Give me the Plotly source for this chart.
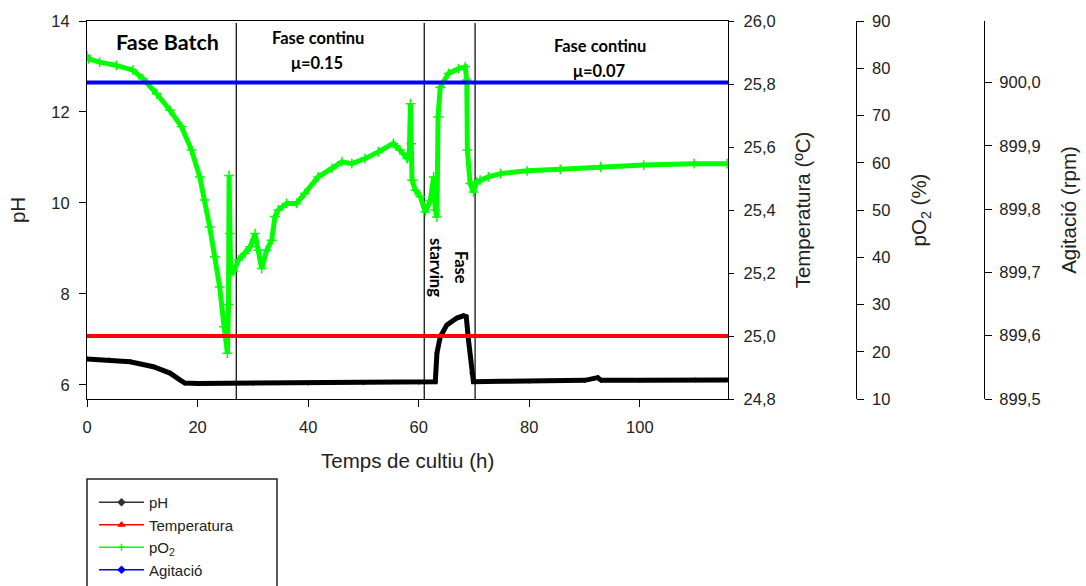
import plotly.graph_objects as go

# ---- Data -------------------------------------------------------------
# pH (time in h)
t_ph = [0, 4, 7.8, 12.0, 15.0, 16.8, 17.7, 20, 30, 40, 50, 60, 63.0, 63.3,
        63.9, 65.1, 66.9, 68.1, 68.6, 69.0, 69.6, 69.9, 75, 80, 90, 92.4,
        93.0, 100, 110, 115.8]
ph = [6.57, 6.55, 6.51, 6.40, 6.26, 6.11, 6.04, 6.03, 6.04, 6.04, 6.05,
      6.06, 6.07, 6.70, 7.06, 7.32, 7.47, 7.52, 7.50, 6.99, 6.26, 6.07,
      6.08, 6.08, 6.10, 6.16, 6.10, 6.10, 6.11, 6.11]

# Dissolved oxygen pO2 (%)
t_po2 = [0, 0.3, 2.3, 5.3, 8.3, 10.1, 12.6, 15.0, 17.1, 18.9, 20.4, 21.3,
         22.2, 23.1, 24.0, 24.8, 25.4, 25.6, 25.7, 25.85, 26.0, 26.5, 27.4,
         28.6, 29.5, 30.4, 31.0, 31.6, 32.5, 33.4, 34.0, 34.6, 36.1, 37.9,
         39.4, 41.8, 44.3, 46.1, 47.9, 50.3, 52.7, 55.4, 56.6, 57.9, 58.3,
         58.5, 58.65, 58.8, 59.4, 60.3, 61.2, 62.1, 62.7, 63.0, 63.3, 63.5,
         63.9, 65.4, 67.2, 68.4, 68.7, 68.8, 69.3, 69.9, 70.5, 71.1, 72.6,
         74.8, 79.6, 85.6, 92.9, 100.7, 109.8, 115.8]
po2 = [82.6, 82.0, 81.3, 80.6, 79.6, 77.8, 74.6, 71.1, 67.6, 62.7, 57.0,
       52.1, 46.4, 40.1, 33.7, 25.3, 19.7, 30.0, 57.3, 45.0, 36.5, 37.0,
       39.4, 40.8, 42.2, 45.0, 41.5, 37.6, 41.5, 43.6, 48.6, 50.0, 51.4,
       51.4, 53.5, 57.0, 58.8, 60.2, 59.8, 60.9, 62.3, 64.1, 62.7, 60.9,
       62.0, 72.5, 64.0, 56.3, 54.2, 52.8, 49.6, 52.0, 57.0, 50.0, 48.5,
       69.7, 76.0, 78.9, 79.9, 80.3, 77.5, 62.7, 55.6, 53.8, 55.9, 56.3,
       57.0, 57.7, 58.3, 58.6, 59.1, 59.5, 59.8, 59.8]

# Set-points held constant over the whole run
t_const = [0, 116]
temperatura = [25.0, 25.0]
agitacio = [900.0, 900.0]

# Phase boundaries (h)
phase_bounds = [27.0, 61.0, 70.2]

# Tick values
x_ticks = [0, 20, 40, 60, 80, 100]
ph_ticks = [6, 8, 10, 12, 14]
temp_ticks = [24.8, 25.0, 25.2, 25.4, 25.6, 25.8, 26.0]
po2_ticks = [10, 20, 30, 40, 50, 60, 70, 80, 90]
agit_ticks = [899.5, 899.6, 899.7, 899.8, 899.9, 900.0]

# ---- Layout geometry --------------------------------------------------
W, H = 1086, 586
ML, MR, MT, MB = 87, 2, 21, 187
PW = W - ML - MR
PH_ = H - MT - MB


def paper_x(px):
    return (px - ML) / PW


def paper_y(py):
    return (H - MB - py) / PH_


FONT = "Liberation Sans, Arial, sans-serif"
BOLD = "Lato, Open Sans, sans-serif"
TICK = dict(family=FONT, size=16.5, color="#222")
TITLE = dict(family=FONT, size=20.5, color="#222")

GREEN, RED, BLUE = "#00FF00", "#FF0000", "#0000FF"

fig = go.Figure()

# Data traces (legend entries are drawn separately with thin samples)
fig.add_trace(go.Scatter(
    x=t_ph, y=ph, yaxis="y", mode="lines+markers", showlegend=False,
    line=dict(color="black", width=5),
    marker=dict(symbol="diamond", size=4, color="black")))
fig.add_trace(go.Scatter(
    x=t_po2, y=po2, yaxis="y2", mode="lines+markers", showlegend=False,
    line=dict(color=GREEN, width=5),
    marker=dict(symbol="cross-thin", size=7,
                line=dict(color=GREEN, width=1.5), color=GREEN)))
fig.add_trace(go.Scatter(
    x=t_const, y=temperatura, yaxis="y3", mode="lines", showlegend=False,
    line=dict(color=RED, width=4)))
fig.add_trace(go.Scatter(
    x=t_const, y=agitacio, yaxis="y4", mode="lines", showlegend=False,
    line=dict(color=BLUE, width=4)))

# Legend entries
legend_items = [
    ("pH", "#333", "diamond"),
    ("Temperatura", RED, "triangle-up"),
    ("pO<sub>2</sub>", GREEN, "cross-thin"),
    ("Agitació", BLUE, "diamond"),
]
for name, color, symbol in legend_items:
    fig.add_trace(go.Scatter(
        x=[None], y=[None], name=name, mode="lines+markers",
        line=dict(color=color, width=1.5),
        marker=dict(symbol=symbol, size=5, color=color,
                    line=dict(color=color, width=1.5))))

axis_common = dict(showline=True, linecolor="black", linewidth=1,
                   ticks="outside", tickcolor="black", showgrid=False,
                   zeroline=False, tickfont=TICK)

x_end = paper_x(728.3)

fig.update_layout(
    width=W, height=H,
    margin=dict(l=ML, r=MR, t=MT, b=MB, autoexpand=False),
    paper_bgcolor="white", plot_bgcolor="white",
    separators=",.",
    xaxis=dict(domain=[0, x_end], range=[0, 116], tickvals=x_ticks,
               ticklen=7, mirror=True, ticklabelstandoff=6,
               title=dict(text="Temps de cultiu (h)", font=TITLE, standoff=18),
               **axis_common),
    yaxis=dict(range=[5.69, 14], tickvals=ph_ticks, ticklen=7,
               ticklabelstandoff=6,
               title=dict(text="pH", font=TITLE, standoff=20),
               **axis_common),
    yaxis2=dict(overlaying="y", anchor="free", position=paper_x(855.7),
                side="right", range=[10, 90], tickvals=po2_ticks, ticklen=7,
                ticklabelstandoff=5,
                title=dict(text="pO<sub>2</sub> (%)", font=TITLE, standoff=22),
                **axis_common),
    yaxis3=dict(overlaying="y", anchor="x", side="right",
                range=[24.8, 26.0], tickvals=temp_ticks, tickformat=".1f",
                ticklen=5, ticklabelstandoff=6,
                title=dict(text="Temperatura (ºC)", font=TITLE, standoff=20),
                **axis_common),
    yaxis4=dict(overlaying="y", anchor="free", position=paper_x(984),
                side="right", range=[899.5, 900.097], tickvals=agit_ticks,
                tickformat=".1f", ticklen=7, ticklabelstandoff=4,
                title=dict(text="Agitació (rpm)", font=TITLE, standoff=22),
                **axis_common),
    legend=dict(x=paper_x(94), y=paper_y(486), xanchor="left", yanchor="top",
                bgcolor="rgba(0,0,0,0)", borderwidth=0,
                font=dict(family=FONT, size=15, color="#222"),
                itemwidth=45, tracegroupgap=0),
    showlegend=True,
)

# Phase separators
for xb in phase_bounds:
    fig.add_shape(type="line", xref="x", yref="paper", x0=xb, x1=xb,
                  y0=0, y1=paper_y(23), line=dict(color="black", width=1.2),
                  layer="below")

# Legend frame (runs past the bottom of the page)
fig.add_shape(type="rect", xref="paper", yref="paper",
              x0=paper_x(87), x1=paper_x(277), y0=paper_y(479), y1=paper_y(640),
              line=dict(color="#222", width=1.5), fillcolor="rgba(0,0,0,0)")

# Phase labels
labels = [
    ("Fase Batch", 167.8, 42, 21.5, 0),
    ("Fase continu", 317.5, 38.5, 16.5, 0),
    ("μ=0.15", 316.7, 63, 16.5, 0),
    ("Fase continu", 599.5, 46.5, 16.5, 0),
    ("μ=0.07", 599, 71, 16.5, 0),
    ("Fase", 461, 267, 16.5, 90),
    ("starving", 436, 267, 16.5, 90),
]
for text, lx, ly, size, angle in labels:
    fig.add_annotation(text=f"<b>{text}</b>", xref="paper", yref="paper",
                       x=paper_x(lx), y=paper_y(ly), showarrow=False,
                       textangle=angle, xanchor="center", yanchor="middle",
                       font=dict(family=BOLD, size=size, color="black"))

fig.write_html("out.html")
